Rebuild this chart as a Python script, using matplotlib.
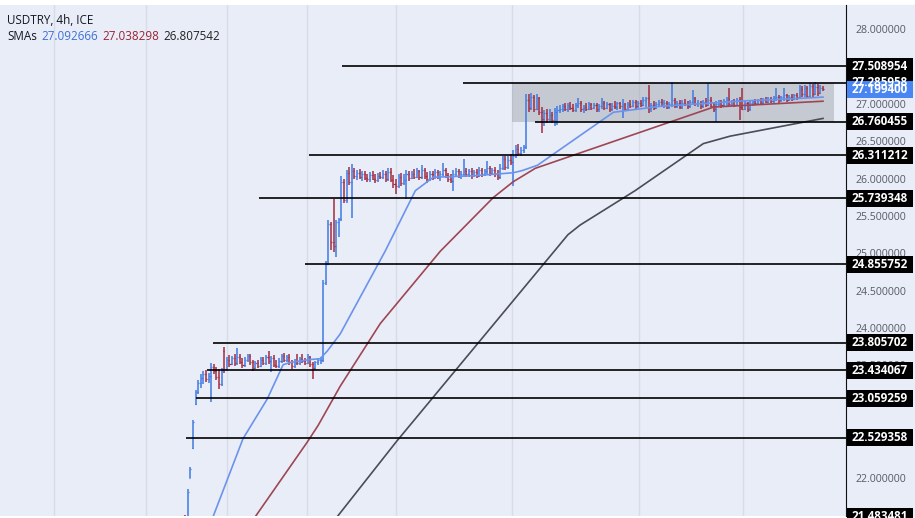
import numpy as np
import matplotlib.pyplot as plt
import matplotlib.transforms as mtransforms
from matplotlib.patches import Rectangle

plt.rcParams['font.family'] = ['Open Sans', 'DejaVu Sans']

# USDTRY 4h bars (open, high, low, close)
opens = [
    21.47, 21.46, 21.48, 21.45, 22.00, 22.40, 22.98, 23.15, 23.27, 23.33,
    23.38, 23.32, 23.36, 23.48, 23.42, 23.35, 23.25, 23.70, 23.45, 23.58,
    23.52, 23.60, 23.53, 23.62, 23.55, 23.50, 23.58, 23.63, 23.54, 23.47,
    23.53, 23.49, 23.58, 23.53, 23.61, 23.56, 23.60, 23.51, 23.49, 23.56,
    23.63, 23.57, 23.61, 23.54, 23.49, 23.55, 23.53, 23.59, 23.56, 23.53,
    23.61, 23.52, 23.46, 23.54, 23.57, 23.58, 24.62, 24.86, 25.40, 25.15,
    25.10, 25.42, 25.46, 25.95, 25.72, 26.08, 25.96, 26.10, 26.04, 26.08,
    26.02, 26.06, 26.01, 25.99, 26.05, 26.00, 25.98, 26.04, 26.02, 26.07,
    25.99, 26.09, 25.98, 25.93, 25.90, 26.02, 25.94, 25.98, 26.06, 26.01,
    26.07, 26.03, 26.10, 26.02, 26.12, 26.04, 25.99, 26.06, 26.02, 26.09,
    26.03, 26.07, 26.12, 26.05, 26.00, 25.97, 26.07, 26.10, 26.04, 26.06,
    26.11, 26.06, 26.10, 26.05, 26.09, 26.04, 26.12, 26.07, 26.10, 26.15,
    26.08, 26.12, 26.06, 26.02, 26.15, 26.26, 26.16, 26.25, 26.22, 26.30,
    26.40, 26.35, 26.38, 26.42, 27.05, 26.95, 27.10, 26.94, 27.08, 26.89,
    26.80, 26.88, 26.80, 26.86, 26.79, 26.90, 26.92, 26.94, 26.97, 26.93,
    26.98, 26.95, 26.92, 26.99, 27.02, 26.94, 26.96, 26.93, 27.00, 26.95,
    26.99, 26.94, 26.97, 27.02, 26.95, 27.00, 26.93, 26.98, 26.96, 27.01,
    26.97, 27.00, 26.94, 27.00, 26.98, 27.03, 26.97, 27.01, 26.99, 27.05,
    27.08, 26.95, 26.99, 26.95, 27.00, 27.03, 26.98, 27.02, 26.96, 27.00,
    27.06, 26.98, 27.01, 26.96, 27.02, 27.00, 26.97, 27.03, 27.08, 27.00,
    27.02, 26.97, 27.03, 26.99, 27.06, 26.98, 26.94, 27.00, 27.03, 26.99,
    27.04, 27.07, 27.00, 27.04, 26.99, 27.06, 26.96, 26.94, 27.01, 26.93,
    27.02, 27.04, 27.01, 27.05, 27.02, 27.06, 27.03, 27.07, 27.04, 27.08,
    27.10, 27.05, 27.09, 27.12, 27.06, 27.10, 27.07, 27.12, 27.09, 27.20,
    27.13, 27.21, 27.11, 27.24, 27.14, 27.23, 27.15, 27.22,
]
highs = [
    21.49, 21.49, 21.50, 21.84, 22.14, 22.77, 23.17, 23.30, 23.38, 23.42,
    23.44, 23.40, 23.53, 23.52, 23.48, 23.45, 23.46, 23.75, 23.62, 23.64,
    23.63, 23.65, 23.73, 23.66, 23.60, 23.62, 23.66, 23.65, 23.58, 23.56,
    23.57, 23.62, 23.61, 23.64, 23.69, 23.63, 23.64, 23.57, 23.60, 23.66,
    23.67, 23.64, 23.66, 23.58, 23.59, 23.65, 23.62, 23.66, 23.60, 23.65,
    23.63, 23.55, 23.56, 23.60, 23.62, 24.65, 24.90, 25.45, 25.42, 25.73,
    25.45, 25.48, 26.04, 26.00, 26.12, 26.16, 26.20, 26.15, 26.12, 26.13,
    26.10, 26.11, 26.07, 26.09, 26.10, 26.06, 26.08, 26.09, 26.12, 26.11,
    26.15, 26.14, 26.05, 25.99, 26.06, 26.08, 26.06, 26.12, 26.10, 26.11,
    26.13, 26.14, 26.12, 26.18, 26.14, 26.09, 26.11, 26.10, 26.13, 26.12,
    26.11, 26.21, 26.14, 26.08, 26.06, 26.12, 26.14, 26.13, 26.11, 26.27,
    26.15, 26.13, 26.14, 26.12, 26.13, 26.16, 26.15, 26.13, 26.24, 26.17,
    26.15, 26.16, 26.12, 26.20, 26.30, 26.31, 26.30, 26.33, 26.38, 26.45,
    26.46, 26.42, 26.45, 27.14, 27.13, 27.15, 27.12, 27.14, 27.10, 26.96,
    26.92, 26.94, 26.93, 26.90, 26.95, 26.97, 26.99, 27.00, 27.02, 27.01,
    27.03, 27.00, 27.02, 27.08, 27.04, 26.99, 27.01, 27.03, 27.02, 27.02,
    27.01, 27.00, 27.08, 27.04, 27.03, 27.02, 27.01, 27.04, 27.03, 27.03,
    27.07, 27.02, 27.03, 27.05, 27.06, 27.05, 27.04, 27.06, 27.10, 27.10,
    27.25, 27.02, 27.04, 27.03, 27.06, 27.07, 27.05, 27.04, 27.03, 27.29,
    27.08, 27.04, 27.06, 27.05, 27.07, 27.04, 27.06, 27.19, 27.10, 27.05,
    27.04, 27.05, 27.08, 27.28, 27.09, 27.02, 27.04, 27.06, 27.05, 27.07,
    27.09, 27.21, 27.06, 27.07, 27.08, 27.09, 27.21, 27.04, 27.03, 27.04,
    27.06, 27.07, 27.07, 27.08, 27.08, 27.09, 27.09, 27.10, 27.11, 27.21,
    27.12, 27.11, 27.22, 27.14, 27.12, 27.13, 27.14, 27.15, 27.26, 27.24,
    27.25, 27.24, 27.28, 27.27, 27.29, 27.27, 27.25, 27.24,
]
lows = [
    21.44, 21.44, 21.44, 21.43, 21.99, 22.38, 22.97, 23.12, 23.20, 23.25,
    23.28, 23.26, 23.01, 23.38, 23.30, 23.18, 23.22, 23.40, 23.43, 23.48,
    23.50, 23.49, 23.50, 23.52, 23.47, 23.48, 23.55, 23.50, 23.42, 23.45,
    23.46, 23.48, 23.50, 23.51, 23.52, 23.41, 23.48, 23.46, 23.47, 23.53,
    23.55, 23.54, 23.50, 23.45, 23.47, 23.50, 23.51, 23.53, 23.50, 23.52,
    23.48, 23.32, 23.44, 23.50, 23.52, 23.54, 24.58, 24.84, 25.05, 25.02,
    24.95, 25.22, 25.44, 25.68, 25.68, 25.92, 25.48, 26.00, 25.98, 25.99,
    25.97, 25.98, 25.95, 25.96, 25.98, 25.94, 25.96, 25.99, 26.00, 25.96,
    25.97, 25.95, 25.88, 25.80, 25.88, 25.90, 25.92, 25.73, 25.97, 25.99,
    26.00, 26.01, 25.98, 26.00, 26.00, 25.94, 25.97, 25.98, 26.00, 25.99,
    25.97, 26.04, 26.01, 25.95, 25.94, 25.84, 26.02, 26.01, 26.00, 26.03,
    26.02, 26.03, 26.00, 26.02, 26.01, 26.02, 26.03, 26.04, 26.06, 26.04,
    26.05, 26.03, 25.98, 26.00, 26.12, 26.12, 26.13, 26.18, 25.90, 26.28,
    26.30, 26.31, 26.35, 26.40, 26.90, 26.92, 26.90, 26.92, 26.85, 26.61,
    26.70, 26.74, 26.76, 26.75, 26.71, 26.72, 26.88, 26.90, 26.91, 26.90,
    26.92, 26.89, 26.90, 26.95, 26.90, 26.88, 26.91, 26.92, 26.92, 26.93,
    26.90, 26.89, 26.94, 26.92, 26.93, 26.90, 26.91, 26.94, 26.92, 26.93,
    26.81, 26.91, 26.92, 26.95, 26.96, 26.94, 26.95, 26.96, 26.97, 26.96,
    26.88, 26.90, 26.92, 26.93, 26.97, 26.96, 26.95, 26.93, 26.94, 26.96,
    26.95, 26.95, 26.93, 26.94, 26.97, 26.94, 26.95, 27.00, 26.97, 26.96,
    26.94, 26.95, 26.96, 26.97, 26.96, 26.90, 26.76, 26.97, 26.95, 26.97,
    26.98, 26.97, 26.98, 26.96, 26.97, 26.78, 26.92, 26.92, 26.89, 26.91,
    26.98, 26.99, 26.99, 27.00, 27.00, 27.01, 27.01, 27.02, 27.02, 27.04,
    27.02, 27.03, 27.04, 27.03, 27.04, 27.04, 27.05, 27.06, 27.07, 27.10,
    27.09, 27.08, 27.09, 27.10, 27.12, 27.11, 27.13, 27.17,
]
closes = [
    21.46, 21.48, 21.45, 21.80, 22.12, 22.74, 23.15, 23.27, 23.33, 23.38,
    23.32, 23.36, 23.48, 23.42, 23.35, 23.25, 23.42, 23.45, 23.58, 23.52,
    23.60, 23.53, 23.62, 23.55, 23.50, 23.58, 23.63, 23.54, 23.47, 23.53,
    23.49, 23.58, 23.53, 23.61, 23.56, 23.60, 23.51, 23.49, 23.56, 23.63,
    23.57, 23.61, 23.54, 23.49, 23.55, 23.53, 23.59, 23.56, 23.53, 23.61,
    23.52, 23.46, 23.54, 23.57, 23.58, 24.60, 24.86, 25.40, 25.15, 25.10,
    25.42, 25.46, 25.95, 25.72, 26.08, 25.96, 26.10, 26.04, 26.08, 26.02,
    26.06, 26.01, 25.99, 26.05, 26.00, 25.98, 26.04, 26.02, 26.07, 25.99,
    26.09, 25.98, 25.93, 25.90, 26.02, 25.94, 25.98, 26.06, 26.01, 26.07,
    26.03, 26.10, 26.02, 26.12, 26.04, 25.99, 26.06, 26.02, 26.09, 26.03,
    26.07, 26.12, 26.05, 26.00, 25.97, 26.07, 26.10, 26.04, 26.06, 26.11,
    26.06, 26.10, 26.05, 26.09, 26.04, 26.12, 26.07, 26.10, 26.15, 26.08,
    26.12, 26.06, 26.02, 26.15, 26.26, 26.16, 26.25, 26.22, 26.30, 26.40,
    26.35, 26.38, 26.42, 27.05, 26.95, 27.10, 26.94, 27.08, 26.89, 26.80,
    26.88, 26.80, 26.86, 26.79, 26.90, 26.92, 26.94, 26.97, 26.93, 26.98,
    26.95, 26.92, 26.99, 27.02, 26.94, 26.96, 26.93, 27.00, 26.95, 26.99,
    26.94, 26.97, 27.02, 26.95, 27.00, 26.93, 26.98, 26.96, 27.01, 26.97,
    27.00, 26.94, 27.00, 26.98, 27.03, 26.97, 27.01, 26.99, 27.05, 27.08,
    26.95, 26.99, 26.95, 27.00, 27.03, 26.98, 27.02, 26.96, 27.00, 27.06,
    26.98, 27.01, 26.96, 27.02, 27.00, 26.97, 27.03, 27.08, 27.00, 27.02,
    26.97, 27.03, 26.99, 27.06, 26.98, 26.94, 27.00, 27.03, 26.99, 27.04,
    27.07, 27.00, 27.04, 26.99, 27.06, 26.96, 26.94, 27.01, 26.93, 27.02,
    27.04, 27.01, 27.05, 27.02, 27.06, 27.03, 27.07, 27.04, 27.08, 27.10,
    27.05, 27.09, 27.12, 27.06, 27.10, 27.07, 27.12, 27.09, 27.20, 27.13,
    27.21, 27.11, 27.24, 27.14, 27.23, 27.15, 27.22, 27.20,
]

# moving averages, read as points (bar number, price)
sma_fast_x = [10, 24.2, 33.5, 39.6, 42.3, 50, 53.8, 56.5, 61.5, 78.8, 90.4, 97.3,
              112.7, 128, 131.5, 137.3, 166.5, 184.6, 215.4, 234.6, 247]
sma_fast_y = [21.23, 22.52, 23.05, 23.51, 23.54, 23.58, 23.59, 23.69, 23.92, 25.03, 25.84, 26.02,
              26.04, 26.08, 26.11, 26.18, 26.89, 26.97, 27.04, 27.07, 27.093]
sma_mid_x = [25, 48.8, 53.1, 61.5, 76.9, 100, 120.4, 128, 136.5, 205, 247]
sma_mid_y = [21.28, 22.47, 22.70, 23.22, 24.06, 25.03, 25.75, 25.96, 26.14, 26.96, 27.038]
sma_slow_x = [56.2, 83.1, 149, 153.7, 174.8, 201, 211.3, 247]
sma_slow_y = [21.29, 22.48, 25.25, 25.38, 25.84, 26.47, 26.57, 26.8075]
sma_labels = ['27.092666', '27.038298', '26.807542']

# horizontal levels and where each one starts (bar number)
level_prices = [27.508954, 27.285958, 26.760455, 26.311212, 25.739348,
                24.855752, 23.805702, 23.434067, 23.059259, 22.529358]
level_start = [62.3, 108.8, 136.5, 49.6, 30.4, 48.1, 12.7, 10.4, 6.2, 2.3]
axis_only_prices = [21.483481]
last_price = 27.199400

zone_bars = (127.7, 251.2)
zone_prices = (26.760455, 27.285958)

grid_bars = [-48.4, -13.1, 18.1, 48.8, 83.0, 127.6, 176.5, 216.1]

BG = '#e9edf7'
UP = '#3f7be3'
DOWN = '#a52a3e'

W, H = 915, 518
fig = plt.figure(figsize=(W / 100, H / 100), dpi=100)
fig.patch.set_facecolor('white')
fig.patches.append(Rectangle((846 / W, 2 / H), 1 - 846 / W, 511 / H,
                             transform=fig.transFigure, color=BG, zorder=-5))
ax = fig.add_axes([0, 2 / H, 846 / W, 511 / H])
ax.set_facecolor(BG)

dx = 643 / 247
ax.set_xlim(-180 / dx, 666 / dx)
ax.set_ylim(21.485, 28.326)

for g in grid_bars:
    ax.axvline(g, color='#d8dce8', lw=1, zorder=0)

# rectangle zone
ax.add_patch(Rectangle((zone_bars[0], zone_prices[0]), zone_bars[1] - zone_bars[0],
                       zone_prices[1] - zone_prices[0], facecolor='#9598a1',
                       alpha=0.42, edgecolor='none', zorder=1))

# OHLC bars
o = np.array(opens)
hi = np.array(highs)
lo = np.array(lows)
c = np.array(closes)
idx = np.arange(len(c))
cols = np.where(c >= o, UP, DOWN)
ax.vlines(idx, lo, hi, colors=cols, lw=1.1, zorder=3)
ax.hlines(o, idx - 0.4, idx, colors=cols, lw=0.9, zorder=3)
ax.hlines(c, idx, idx + 0.4, colors=cols, lw=0.9, zorder=3)

ax.plot(sma_fast_x, sma_fast_y, color='#6b93ee', lw=1.2, zorder=4)
ax.plot(sma_mid_x, sma_mid_y, color='#9e4653', lw=1.2, zorder=4)
ax.plot(sma_slow_x, sma_slow_y, color='#4b4c55', lw=1.2, zorder=4)

xmax = ax.get_xlim()[1]
for p, s in zip(level_prices, level_start):
    ax.hlines(p, s, xmax, color='black', lw=1.2, zorder=5)

# price scale on the right
for sp in ['top', 'left', 'bottom']:
    ax.spines[sp].set_visible(False)
ax.spines['right'].set_color('#111111')
ax.set_xticks([])
ax.yaxis.tick_right()
ticks = np.arange(22.0, 28.01, 0.5)
ax.set_yticks(ticks)
ax.set_yticklabels([f'{v:.6f}' for v in ticks])
ax.tick_params(axis='y', length=0, pad=7, labelsize=7.6, labelcolor='#555a66')

blend = mtransforms.blended_transform_factory(fig.transFigure, ax.transData)
box_h = 17 / 74.7
bx0, bx1 = 847 / W, 913 / W


def price_label(p, face):
    ax.add_patch(Rectangle((bx0, p - box_h / 2), bx1 - bx0, box_h, transform=blend,
                           facecolor=face, edgecolor='none', clip_on=False, zorder=10))
    ax.text((bx0 + bx1) / 2, p, f'{p:.6f}', transform=blend, ha='center', va='center',
            color='white', fontsize=8.4, fontweight='bold', clip_on=False, zorder=11)


for p in level_prices + axis_only_prices:
    price_label(p, 'black')
price_label(last_price, '#4a86f2')

# header texts
fig.text(7 / W, 1 - 20 / H, 'USDTRY, 4h, ICE', fontsize=8.4, color='#131722', va='center')
fig.text(7 / W, 1 - 37 / H, 'SMAs', fontsize=8.4, color='#131722', va='center')
for xp, txt, col in zip([41, 102, 163], sma_labels, ['#3d6fd9', '#9b2335', '#222222']):
    fig.text(xp / W, 1 - 37 / H, txt, fontsize=8.4, color=col, va='center')

fig.savefig('out.png', dpi=100, facecolor=fig.get_facecolor())
